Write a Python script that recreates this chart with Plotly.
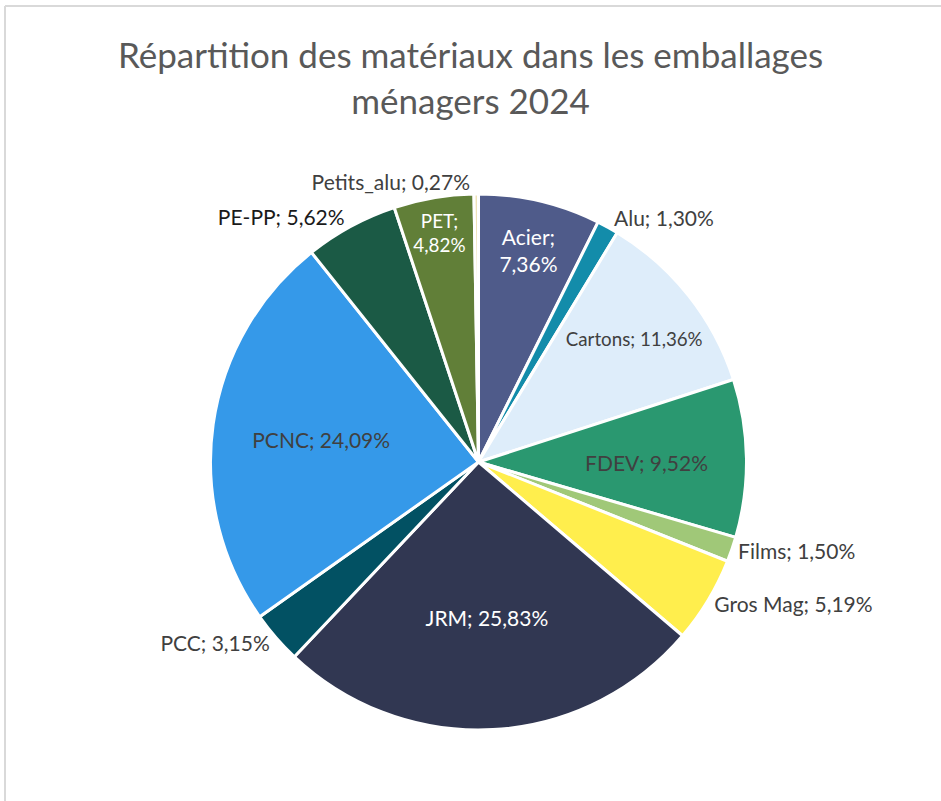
import plotly.graph_objects as go

labels = ["Acier", "Alu", "Cartons", "FDEV", "Films", "Gros Mag", "JRM", "PCC",
          "PCNC", "PE-PP", "PET", "Petits_alu"]
values = [7.36, 1.30, 11.36, 9.52, 1.50, 5.19, 25.83, 3.15, 24.09, 5.62, 4.82, 0.27]
colors = ["#4F5B8A", "#138CAA", "#DEEDFA", "#2A9870", "#A0C878", "#FFEE4D", "#313752",
          "#025163", "#3599E9", "#1B5A45", "#617F38", "#EFE3B8"]
positions = ["inside", "outside", "inside", "inside", "outside", "outside", "inside",
             "outside", "inside", "outside", "inside", "outside"]
text_colors = ["#FFFFFF", "#404040", "#404040", "#404040", "#404040", "#404040", "#FFFFFF",
               "#404040", "#404040", "#1A1A1A", "#FFFFFF", "#404040"]
wrap = ["Acier", "PET"]
title_text = "Répartition des matériaux dans les emballages<br>ménagers 2024"

def fmt(v):
    return f"{v:.2f}".replace(".", ",") + "%"

texts = [f"{l};<br>{fmt(v)}" if l in wrap else f"{l}; {fmt(v)}" for l, v in zip(labels, values)]

W, H = 941, 801
cx, cy, r = 478.5, 462, 268

fig = go.Figure(go.Pie(
    labels=labels,
    values=values,
    text=texts,
    textinfo="text",
    textposition=positions,
    insidetextorientation="horizontal",
    sort=False,
    direction="clockwise",
    rotation=0,
    marker=dict(colors=colors, line=dict(color="white", width=3)),
    textfont=dict(family="Lato", size=21, color=text_colors),
    hoverinfo="label+value",
    showlegend=False,
    domain=dict(x=[(cx - r) / W, (cx + r) / W], y=[(H - cy - r) / H, (H - cy + r) / H]),
    automargin=False,
))

fig.update_layout(
    width=W, height=H,
    margin=dict(l=0, r=0, t=0, b=0),
    paper_bgcolor="white",
    font=dict(family="Lato", color="#595959"),
    title=dict(text=title_text, x=0.5, xanchor="center", y=1 - 68 / H, yanchor="middle",
               font=dict(family="Lato", size=35, color="#595959")),
    shapes=[
        dict(type="line", xref="paper", yref="paper", x0=5 / W, x1=5 / W, y0=0, y1=1 - 6 / H,
             line=dict(color="#D9D9D9", width=2)),
        dict(type="line", xref="paper", yref="paper", x0=5 / W, x1=1, y0=1 - 6 / H, y1=1 - 6 / H,
             line=dict(color="#D9D9D9", width=2)),
    ],
)

fig.write_html("out.html", config={"displayModeBar": False},
               post_script="document.body.style.margin='0';")
